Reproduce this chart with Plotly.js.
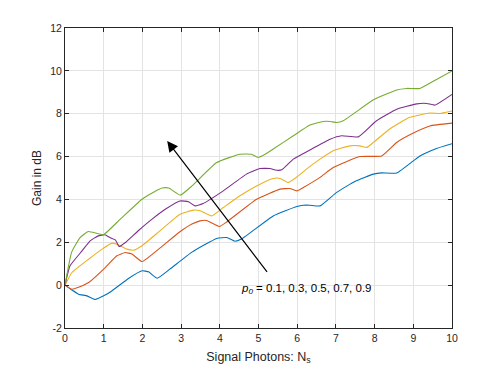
<!DOCTYPE html>
<html>
<head>
<meta charset="utf-8">
<script src="https://cdn.plot.ly/plotly-3.0.1.min.js"></script>
<style>
  html, body { margin: 0; padding: 0; background: #ffffff; }
  #grafico { width: 498px; height: 370px; }
</style>
</head>
<body>
<div id="grafico"></div>
<script>
// Ganancia en dB frente a fotones de señal, una curva por p0

const etiquetas = ['0.1', '0.3', '0.5', '0.7', '0.9'];

const xP01 = [0, 0.18, 0.35, 0.57, 0.78, 1.0, 1.21, 1.64, 1.99, 2.16, 2.38, 2.71, 3.28, 3.92, 4.18, 4.39, 4.56, 5.38, 5.99, 6.16, 6.33, 6.59, 7.02, 7.5, 7.97, 8.18, 8.57, 9.17, 9.6, 10];
const yP01 = [0, -0.23, -0.42, -0.5, -0.67, -0.5, -0.27, 0.31, 0.67, 0.62, 0.32, 0.75, 1.54, 2.18, 2.22, 2.05, 2.15, 3.23, 3.67, 3.73, 3.73, 3.7, 4.33, 4.85, 5.18, 5.24, 5.23, 6.03, 6.38, 6.6];

const xP03 = [0, 0.18, 0.35, 0.61, 1.04, 1.34, 1.56, 1.73, 1.99, 2.42, 2.97, 3.28, 3.49, 3.66, 3.99, 4.18, 4.95, 5.56, 5.81, 5.99, 6.16, 6.59, 6.93, 7.62, 8.18, 8.57, 9.0, 9.43, 10];
const yP03 = [0, -0.19, -0.1, 0.12, 0.82, 1.37, 1.52, 1.45, 1.1, 1.68, 2.49, 2.85, 3.0, 3.02, 2.74, 2.95, 4.01, 4.48, 4.51, 4.4, 4.56, 5.03, 5.49, 6.0, 6.03, 6.66, 7.1, 7.43, 7.56];

const xP05 = [0, 0.18, 0.61, 0.96, 1.21, 1.34, 1.6, 1.77, 1.99, 2.4, 2.81, 2.97, 3.32, 3.49, 3.79, 4.09, 4.5, 4.95, 5.38, 5.56, 5.77, 5.94, 6.33, 6.59, 6.93, 7.36, 7.62, 7.8, 7.97, 8.4, 8.91, 9.43, 9.69, 9.82, 10];
const yP05 = [0, 0.59, 1.21, 1.68, 1.96, 1.91, 1.68, 1.63, 1.84, 2.45, 3.08, 3.31, 3.5, 3.47, 3.23, 3.62, 4.15, 4.63, 4.98, 4.98, 4.79, 4.98, 5.54, 5.88, 6.27, 6.5, 6.5, 6.43, 6.66, 7.3, 7.83, 8.03, 8.01, 8.06, 8.13];

const xP07 = [0, 0.13, 0.44, 0.65, 0.86, 1.03, 1.16, 1.3, 1.4, 1.56, 1.9, 2.25, 2.6, 2.97, 3.19, 3.36, 3.57, 4.09, 4.69, 5.04, 5.3, 5.43, 5.6, 5.9, 6.33, 6.85, 7.15, 7.58, 8.05, 8.57, 9.09, 9.35, 9.56, 10];
const yP07 = [0, 0.9, 1.6, 2.07, 2.3, 2.35, 2.22, 2.11, 1.8, 1.99, 2.55, 3.08, 3.55, 3.93, 3.89, 3.7, 3.81, 4.4, 5.18, 5.44, 5.44, 5.37, 5.38, 5.88, 6.31, 6.81, 6.97, 6.92, 7.67, 8.21, 8.46, 8.48, 8.4, 8.9];

const xP09 = [0, 0.17, 0.39, 0.6, 0.83, 0.99, 1.43, 1.99, 2.3, 2.51, 2.68, 2.98, 3.28, 3.92, 4.52, 4.82, 4.99, 5.17, 5.38, 5.9, 6.33, 6.67, 6.85, 7.02, 7.19, 7.97, 8.57, 8.83, 9.17, 9.6, 10];
const yP09 = [0, 1.53, 2.22, 2.5, 2.41, 2.35, 3.08, 4.01, 4.35, 4.53, 4.53, 4.2, 4.63, 5.72, 6.11, 6.11, 5.96, 6.11, 6.35, 6.97, 7.47, 7.64, 7.64, 7.59, 7.67, 8.65, 9.11, 9.18, 9.18, 9.6, 10.0];

const ticksX = [0, 1, 2, 3, 4, 5, 6, 7, 8, 9, 10];
const ticksY = [-2, 0, 2, 4, 6, 8, 10, 12];

// colores por defecto de MATLAB
const colores = ['#0072BD', '#D95319', '#EDB120', '#7E2F8E', '#77AC30'];

const series = [[xP01, yP01], [xP03, yP03], [xP05, yP05], [xP07, yP07], [xP09, yP09]];

const trazas = series.map((s, i) => ({
    x: s[0],
    y: s[1],
    mode: 'lines',
    line: { color: colores[i], width: 1.1, shape: 'spline', smoothing: 0.4 },
    name: 'p0 = ' + etiquetas[i]
}));

const ejeComun = {
    showline: true,
    linecolor: '#262626',
    linewidth: 1,
    mirror: 'ticks',
    ticks: 'inside',
    ticklen: 4,
    tickcolor: '#262626',
    showgrid: true,
    gridcolor: '#e3e3e3',
    gridwidth: 1,
    zeroline: false,
    tickfont: { size: 10.5, color: '#262626' }
};

const layout = {
    width: 498,
    height: 370,
    paper_bgcolor: '#ffffff',
    plot_bgcolor: '#ffffff',
    font: { family: 'Liberation Sans, Arial, sans-serif', color: '#262626' },
    margin: { l: 65, r: 46, t: 28, b: 42 },
    showlegend: false,
    xaxis: Object.assign({}, ejeComun, {
        range: [0, 10],
        tickvals: ticksX,
        ticktext: ticksX.map(String),
        title: { text: 'Signal Photons: N<sub>s</sub>', font: { size: 12.5, color: '#262626' }, standoff: 9 }
    }),
    yaxis: Object.assign({}, ejeComun, {
        range: [-2, 12],
        tickvals: ticksY,
        ticktext: ticksY.map(String),
        title: { text: 'Gain in dB', font: { size: 12, color: '#262626' }, standoff: 6 }
    }),
    annotations: [
        {
            // flecha
            x: 2.64, y: 6.73, xref: 'x', yref: 'y',
            ax: 5.25, ay: 0.55, axref: 'x', ayref: 'y',
            text: '',
            showarrow: true,
            arrowhead: 2,
            arrowsize: 1.8,
            arrowwidth: 1.2,
            arrowcolor: '#000000'
        },
        {
            x: 4.5, y: -0.2, xref: 'x', yref: 'y',
            xanchor: 'left', yanchor: 'middle',
            text: '<i>p<sub>0</sub></i> = 0.1, 0.3, 0.5, 0.7, 0.9',
            showarrow: false,
            font: { size: 11.5, color: '#000000' }
        }
    ]
};

Plotly.newPlot('grafico', trazas, layout, { displayModeBar: false, staticPlot: true });
</script>
</body>
</html>
